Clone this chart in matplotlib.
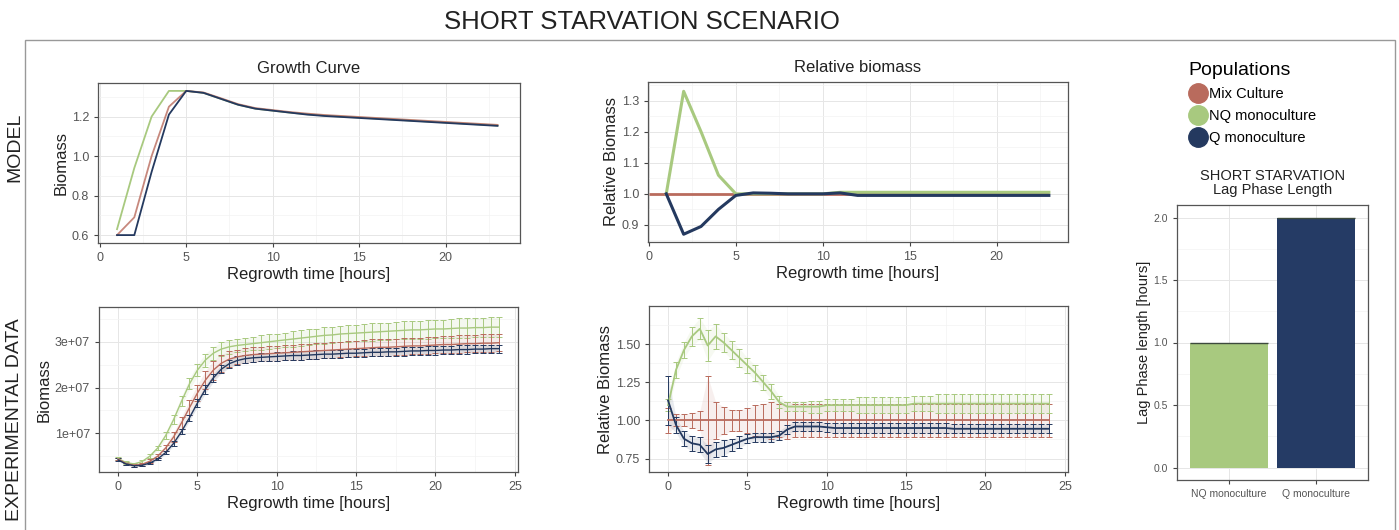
import numpy as np
import matplotlib
matplotlib.use("Agg")
import matplotlib.pyplot as plt
from matplotlib.lines import Line2D
from matplotlib.patches import Rectangle
from matplotlib.ticker import AutoMinorLocator, FuncFormatter

plt.rcParams['font.family'] = ['Liberation Sans', 'DejaVu Sans']

MIX_COLOR = '#b96b5d'
NQ_COLOR = '#a8c97f'
Q_COLOR = '#24395f'

populations = ['Mix Culture', 'NQ monoculture', 'Q monoculture']

# Model, hourly
model_time = list(range(1, 24))
model_mix = [0.60, 0.69, 1.00, 1.25, 1.33, 1.322, 1.293, 1.263, 1.243, 1.233, 1.223, 1.215,
             1.208, 1.203, 1.198, 1.193, 1.188, 1.183, 1.178, 1.173, 1.168, 1.163, 1.158]
model_nq = [0.63, 0.94, 1.20, 1.33, 1.33, 1.32, 1.29, 1.26, 1.24, 1.23, 1.22, 1.212,
            1.205, 1.20, 1.195, 1.19, 1.185, 1.18, 1.175, 1.17, 1.165, 1.16, 1.155]
model_q = [0.60, 0.60, 0.92, 1.21, 1.33, 1.32, 1.29, 1.26, 1.24, 1.23, 1.22, 1.21,
           1.203, 1.198, 1.193, 1.188, 1.183, 1.178, 1.173, 1.168, 1.163, 1.158, 1.153]

model_rel_nq = [1.0, 1.33, 1.20, 1.06, 1.0, 1.0, 1.0, 1.0, 1.0, 1.0, 1.005, 1.005,
                1.005, 1.005, 1.005, 1.005, 1.005, 1.005, 1.005, 1.005, 1.005, 1.005, 1.005]
model_rel_q = [1.0, 0.87, 0.895, 0.95, 0.995, 1.003, 1.002, 1.0, 1.0, 1.0, 1.003, 0.995,
               0.995, 0.995, 0.995, 0.995, 0.995, 0.995, 0.995, 0.995, 0.995, 0.995, 0.995]

# Experimental data, every half hour (biomass in millions)
exp_time = [i * 0.5 for i in range(49)]
exp_nq = [4.5, 3.6, 3.3, 3.8, 5.0, 6.8, 9.5, 13.0, 17.0, 20.8,
          23.8, 26.0, 27.5, 28.4, 28.9, 29.2, 29.4, 29.6, 29.8, 30.0,
          30.2, 30.4, 30.6, 30.8, 31.0, 31.2, 31.4, 31.5, 31.7, 31.8,
          31.9, 32.0, 32.1, 32.2, 32.3, 32.4, 32.5, 32.6, 32.6, 32.7,
          32.8, 32.8, 32.9, 33.0, 33.0, 33.1, 33.1, 33.2, 33.2]
exp_mix = [4.4, 3.4, 3.0, 3.2, 3.9, 5.0, 6.8, 9.2, 12.3, 15.6,
           18.8, 21.6, 23.8, 25.3, 26.2, 26.7, 27.0, 27.2, 27.3, 27.4,
           27.5, 27.6, 27.7, 27.8, 27.9, 28.0, 28.1, 28.2, 28.3, 28.4,
           28.5, 28.6, 28.7, 28.8, 28.8, 28.9, 29.0, 29.1, 29.1, 29.2,
           29.3, 29.4, 29.4, 29.5, 29.6, 29.6, 29.7, 29.7, 29.8]
exp_q = [4.2, 3.3, 2.9, 3.0, 3.5, 4.4, 5.8, 7.8, 10.4, 13.4,
         16.6, 19.6, 22.1, 24.0, 25.2, 25.9, 26.3, 26.5, 26.6, 26.7,
         26.8, 26.9, 27.0, 27.0, 27.1, 27.2, 27.3, 27.3, 27.4, 27.5,
         27.5, 27.6, 27.7, 27.7, 27.8, 27.8, 27.9, 28.0, 28.0, 28.1,
         28.1, 28.2, 28.2, 28.3, 28.3, 28.4, 28.4, 28.5, 28.5]
exp_nq_sd = [0.4, 0.3, 0.3, 0.3, 0.4, 0.5, 0.7, 0.9, 1.1, 1.2,
             1.3, 1.4, 1.4, 1.5, 1.5, 1.5, 1.5, 1.5, 1.6, 1.6,
             1.6, 1.6, 1.7, 1.7, 1.7, 1.7, 1.8, 1.8, 1.8, 1.8,
             1.8, 1.9, 1.9, 1.9, 1.9, 1.9, 2.0, 2.0, 2.0, 2.0,
             2.0, 2.0, 2.1, 2.1, 2.1, 2.1, 2.1, 2.2, 2.2]
exp_mix_sd = [0.3, 0.3, 0.3, 0.3, 0.4, 0.5, 0.7, 1.0, 1.3, 1.6,
              1.8, 2.0, 2.1, 1.9, 1.7, 1.6, 1.6, 1.6, 1.6, 1.6,
              1.6, 1.6, 1.6, 1.7, 1.7, 1.7, 1.7, 1.7, 1.7, 1.7,
              1.7, 1.7, 1.8, 1.8, 1.8, 1.8, 1.8, 1.8, 1.8, 1.8,
              1.8, 1.8, 1.8, 1.9, 1.9, 1.9, 1.9, 1.9, 1.9]
exp_q_sd = [0.3, 0.2, 0.2, 0.2, 0.3, 0.3, 0.4, 0.5, 0.6, 0.7,
            0.8, 0.9, 0.9, 0.9, 0.9, 0.9, 0.9, 0.9, 0.9, 0.9,
            0.9, 0.9, 0.9, 0.9, 0.9, 0.9, 0.9, 0.9, 0.9, 0.9,
            0.9, 0.9, 0.9, 0.9, 0.9, 0.9, 0.9, 0.9, 0.9, 0.9,
            0.9, 0.9, 0.9, 0.9, 0.9, 0.9, 0.9, 0.9, 0.9]

exp_rel_nq = [1.10, 1.33, 1.46, 1.55, 1.60, 1.49, 1.55, 1.51, 1.46, 1.41,
              1.36, 1.31, 1.25, 1.19, 1.12, 1.09, 1.09, 1.09, 1.09, 1.09,
              1.10, 1.10, 1.10, 1.10, 1.10, 1.10, 1.10, 1.10, 1.10, 1.10,
              1.10, 1.11, 1.11, 1.11, 1.11, 1.11, 1.11, 1.11, 1.11, 1.11,
              1.11, 1.11, 1.11, 1.11, 1.11, 1.11, 1.11, 1.11, 1.11]
exp_rel_nq_sd = [0.04, 0.05, 0.05, 0.06, 0.07, 0.10, 0.08, 0.06, 0.06, 0.06,
                 0.05, 0.05, 0.05, 0.05, 0.04, 0.03, 0.03, 0.03, 0.04, 0.04,
                 0.04, 0.04, 0.04, 0.04, 0.05, 0.05, 0.05, 0.05, 0.05, 0.05,
                 0.05, 0.05, 0.05, 0.05, 0.06, 0.06, 0.06, 0.06, 0.06, 0.06,
                 0.06, 0.06, 0.06, 0.06, 0.06, 0.06, 0.06, 0.06, 0.06]
exp_rel_mix = [1.0] * 49
exp_rel_mix_sd = [0.08, 0.04, 0.04, 0.05, 0.06, 0.29, 0.12, 0.09, 0.07, 0.07,
                  0.08, 0.10, 0.11, 0.12, 0.11, 0.12, 0.11, 0.11, 0.11, 0.11,
                  0.11, 0.11, 0.11, 0.11, 0.11, 0.11, 0.11, 0.11, 0.11, 0.11,
                  0.11, 0.11, 0.11, 0.11, 0.11, 0.11, 0.11, 0.11, 0.11, 0.11,
                  0.11, 0.11, 0.11, 0.11, 0.11, 0.11, 0.11, 0.11, 0.11]
exp_rel_q = [1.13, 0.97, 0.88, 0.85, 0.84, 0.78, 0.81, 0.82, 0.84, 0.86,
             0.88, 0.89, 0.89, 0.89, 0.90, 0.94, 0.96, 0.96, 0.96, 0.96,
             0.955, 0.95, 0.95, 0.95, 0.95, 0.95, 0.95, 0.95, 0.95, 0.95,
             0.95, 0.95, 0.95, 0.95, 0.95, 0.95, 0.945, 0.945, 0.945, 0.945,
             0.945, 0.945, 0.945, 0.945, 0.945, 0.945, 0.945, 0.945, 0.945]
exp_rel_q_sd = [0.16, 0.05, 0.05, 0.05, 0.05, 0.06, 0.05, 0.05, 0.04, 0.04,
                0.03, 0.03, 0.03, 0.03, 0.03, 0.03, 0.03, 0.03, 0.03, 0.03,
                0.03, 0.03, 0.03, 0.03, 0.03, 0.03, 0.03, 0.03, 0.03, 0.03,
                0.03, 0.03, 0.03, 0.03, 0.03, 0.03, 0.03, 0.03, 0.03, 0.03,
                0.03, 0.03, 0.03, 0.03, 0.03, 0.03, 0.03, 0.03, 0.03]

lag_labels = ['NQ monoculture', 'Q monoculture']
lag_values = [1.0, 2.0]


def style_panel(ax):
    # ggplot theme_bw look
    ax.set_facecolor('white')
    ax.xaxis.set_minor_locator(AutoMinorLocator(2))
    ax.yaxis.set_minor_locator(AutoMinorLocator(2))
    ax.grid(True, which='major', color='#e6e6e6', lw=0.7)
    ax.grid(True, which='minor', color='#f3f3f3', lw=0.5)
    ax.set_axisbelow(True)
    for s in ax.spines.values():
        s.set_color('#555555')
        s.set_linewidth(0.9)
    ax.tick_params(which='major', length=3, color='#444444', labelcolor='#555555', labelsize=9)
    ax.tick_params(which='minor', length=0)


W, H = 1399, 530
fig = plt.figure(figsize=(W / 100, H / 100), dpi=100)


def add_panel(left, top, right, bottom):
    return fig.add_axes([left / W, 1 - bottom / H, (right - left) / W, (bottom - top) / H])


fig.text(642 / W, 1 - 22 / H, 'SHORT STARVATION SCENARIO', ha='center', va='center',
         fontsize=18.5, color='#222222')
fig.add_artist(Rectangle((25 / W, -0.01), 1370 / W, 1 - 40 / H + 0.01, transform=fig.transFigure,
                         fill=False, edgecolor='#999999', lw=1))
fig.text(15 / W, 1 - 147 / H, 'MODEL', rotation=90, ha='center', va='center',
         fontsize=14, color='#222222')
fig.text(15 / W, 1 - 420 / H, 'EXPERIMENTAL DATA', rotation=90, ha='center', va='center',
         fontsize=14, color='#222222')

# Growth curve (model)
ax1 = add_panel(98, 83, 520, 243)
style_panel(ax1)
ax1.plot(model_time, model_nq, color=NQ_COLOR, lw=1.3)
ax1.plot(model_time, model_mix, color=MIX_COLOR, lw=1.3, alpha=0.8)
ax1.plot(model_time, model_q, color=Q_COLOR, lw=1.3)
ax1.set_xlim(-0.1, 24.3)
ax1.set_ylim(0.56, 1.37)
ax1.set_xticks([0, 5, 10, 15, 20])
ax1.set_yticks([0.6, 0.8, 1.0, 1.2])
ax1.yaxis.set_major_formatter(FuncFormatter(lambda v, p: '%.1f' % v))
ax1.set_title('Growth Curve', fontsize=12, color='#222222', pad=7)
ax1.set_xlabel('Regrowth time [hours]', fontsize=12, color='#222222', labelpad=2)
ax1.set_ylabel('Biomass', fontsize=12, color='#222222', labelpad=2)

# Relative biomass (model)
ax2 = add_panel(648, 82, 1068, 242)
style_panel(ax2)
ax2.hlines(1.0, 0, model_time[-1], color=MIX_COLOR, lw=2)
ax2.plot(model_time, model_rel_nq, color=NQ_COLOR, lw=2.2)
ax2.plot(model_time, model_rel_q, color=Q_COLOR, lw=2.2)
ax2.set_xlim(-0.05, 24.1)
ax2.set_ylim(0.845, 1.36)
ax2.set_xticks([0, 5, 10, 15, 20])
ax2.set_yticks([0.9, 1.0, 1.1, 1.2, 1.3])
ax2.yaxis.set_major_formatter(FuncFormatter(lambda v, p: '%.1f' % v))
ax2.set_title('Relative biomass', fontsize=12, color='#222222', pad=7)
ax2.set_xlabel('Regrowth time [hours]', fontsize=12, color='#222222', labelpad=2)
ax2.set_ylabel('Relative Biomass', fontsize=12, color='#222222', labelpad=2)

# Experimental growth
ax3 = add_panel(99, 307, 518, 472)
style_panel(ax3)
t = np.array(exp_time)
for mean, sd, color in [(exp_nq, exp_nq_sd, NQ_COLOR), (exp_mix, exp_mix_sd, MIX_COLOR),
                        (exp_q, exp_q_sd, Q_COLOR)]:
    m = np.array(mean) * 1e6
    s = np.array(sd) * 1e6
    ax3.fill_between(t, m - s, m + s, color=color, alpha=0.12, lw=0)
    ax3.errorbar(t, m, yerr=s, color=color, lw=1.0, elinewidth=0.7, capsize=2.2, capthick=0.7)
ax3.set_xlim(-1.2, 25.2)
ax3.set_ylim(1.55e6, 3.76e7)
ax3.set_xticks([0, 5, 10, 15, 20, 25])
ax3.set_yticks([1e7, 2e7, 3e7])
ax3.yaxis.set_major_formatter(FuncFormatter(lambda v, p: '%de+07' % round(v / 1e7)))
ax3.set_xlabel('Regrowth time [hours]', fontsize=12, color='#222222', labelpad=2)
ax3.set_ylabel('Biomass', fontsize=12, color='#222222', labelpad=2)

# Experimental relative biomass
ax4 = add_panel(649, 306, 1068, 472)
style_panel(ax4)
for mean, sd, color in [(exp_rel_mix, exp_rel_mix_sd, MIX_COLOR), (exp_rel_nq, exp_rel_nq_sd, NQ_COLOR),
                        (exp_rel_q, exp_rel_q_sd, Q_COLOR)]:
    m = np.array(mean)
    s = np.array(sd)
    ax4.fill_between(t, m - s, m + s, color=color, alpha=0.1, lw=0)
    ax4.errorbar(t, m, yerr=s, color=color, lw=1.3, elinewidth=0.7, capsize=2.2, capthick=0.7)
ax4.set_xlim(-1.2, 25.2)
ax4.set_ylim(0.662, 1.749)
ax4.set_xticks([0, 5, 10, 15, 20, 25])
ax4.set_yticks([0.75, 1.0, 1.25, 1.5])
ax4.yaxis.set_major_formatter(FuncFormatter(lambda v, p: '%.2f' % v))
ax4.set_xlabel('Regrowth time [hours]', fontsize=12, color='#222222', labelpad=2)
ax4.set_ylabel('Relative Biomass', fontsize=12, color='#222222', labelpad=2)

# Lag phase bars
ax5 = add_panel(1177, 205, 1368, 480)
style_panel(ax5)
xpos = [1, 2]
ax5.bar(xpos, lag_values, width=0.9, color=[NQ_COLOR, '#253b65'])
ax5.hlines(lag_values, [x - 0.45 for x in xpos], [x + 0.45 for x in xpos], color='#3d4a3d', lw=1)
ax5.set_xlim(0.4, 2.6)
ax5.set_ylim(-0.1, 2.1)
ax5.set_xticks(xpos)
ax5.set_xticklabels(lag_labels)
ax5.xaxis.set_minor_locator(plt.NullLocator())
ax5.set_yticks([0.0, 0.5, 1.0, 1.5, 2.0])
ax5.yaxis.set_major_formatter(FuncFormatter(lambda v, p: '%.1f' % v))
ax5.tick_params(labelsize=7.5)
ax5.set_title('SHORT STARVATION\nLag Phase Length', fontsize=10.5, color='#222222', pad=8,
              linespacing=1.0)
ax5.set_ylabel('Lag Phase length [hours]', fontsize=10.5, color='#222222', labelpad=2)

handles = [Line2D([], [], ls='none', marker='o', markersize=14, markerfacecolor=c,
                  markeredgecolor=c) for c in [MIX_COLOR, NQ_COLOR, Q_COLOR]]
fig.legend(handles, populations, title='Populations', loc='upper left',
           bbox_to_anchor=(1183 / W, 1 - 56 / H), frameon=False, fontsize=10.5,
           title_fontsize=14, handletextpad=0.1, labelspacing=0.55, borderaxespad=0,
           handlelength=1.3, alignment='left')

fig.savefig('out.png', dpi=100, facecolor='white')
